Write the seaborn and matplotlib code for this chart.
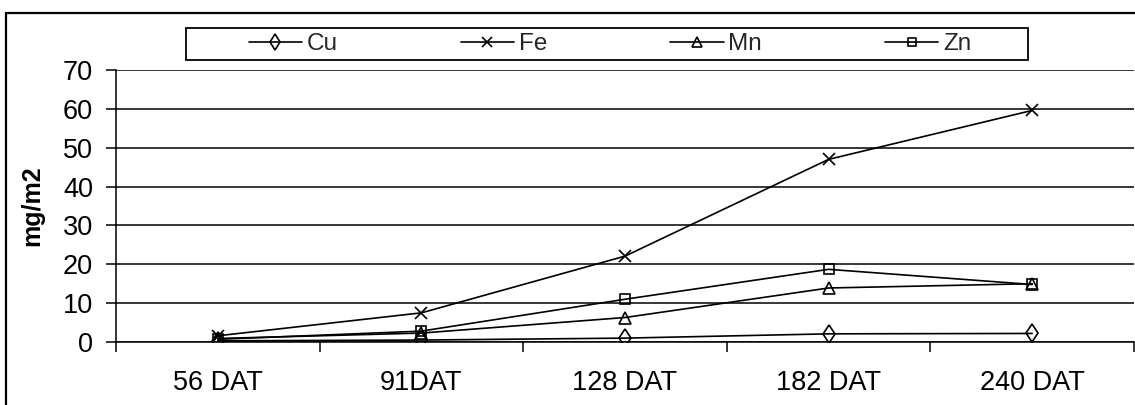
import matplotlib
matplotlib.use("Agg")
import matplotlib.pyplot as plt
from matplotlib.patches import Rectangle
from matplotlib.ticker import FixedLocator, MultipleLocator
import numpy as np
import pandas as pd
import seaborn as sns

# Sampling dates and micronutrient uptake (mg/m2)
stages = ["56 DAT", "91DAT", "128 DAT", "182 DAT", "240 DAT"]
cu = [0.3, 0.5, 1.0, 2.1, 2.2]
fe = [1.6, 7.5, 22.1, 47.0, 59.6]
mn = [0.9, 2.3, 6.3, 13.9, 15.0]
zn = [0.7, 2.8, 11.0, 18.7, 14.8]
elements = ["Cu", "Fe", "Mn", "Zn"]

wide = pd.DataFrame({"stage": stages, "Cu": cu, "Fe": fe, "Mn": mn, "Zn": zn})
long = wide.melt(id_vars="stage", var_name="element", value_name="uptake")

sns.set_theme(style="white")
plt.rcParams["font.family"] = ["Liberation Sans", "DejaVu Sans"]

W, H = 1135, 405
fig = plt.figure(figsize=(W / 100, H / 100), dpi=100)
ax = fig.add_axes([116 / W, 1 - 342 / H, (1134 - 116) / W, (342 - 70) / H])

sns.lineplot(
    data=long, x="stage", y="uptake", hue="element", hue_order=elements,
    palette=["black"] * 4, sort=False, legend=False, ax=ax, linewidth=1.2,
)

marker_style = {
    "Cu": dict(marker="d", markersize=9.5),
    "Fe": dict(marker="x", markersize=9),
    "Mn": dict(marker="^", markersize=8.5),
    "Zn": dict(marker="s", markersize=7.5),
}
lines = ax.get_lines()[:4]
for line, el in zip(lines, elements):
    st = marker_style[el]
    line.set_marker(st["marker"])
    line.set_markersize(st["markersize"])
    line.set_markerfacecolor("none")
    line.set_markeredgecolor("black")
    line.set_markeredgewidth(1.2)
    line.set_color("black")

ax.set_xlim(-0.5, len(stages) - 0.5)
ax.set_ylim(0, 70)
ax.yaxis.set_major_locator(MultipleLocator(10))
ax.grid(axis="y", color="black", linewidth=1.1)
ax.grid(axis="x", visible=False)
ax.set_axisbelow(True)

for side in ["top", "right"]:
    ax.spines[side].set_visible(False)
for side in ["left", "bottom"]:
    ax.spines[side].set_color("black")
    ax.spines[side].set_linewidth(1.1)

ax.set_xticks(range(len(stages)))
ax.set_xticklabels(stages)
ax.xaxis.set_minor_locator(FixedLocator(np.arange(-0.5, len(stages), 1.0)))
ax.tick_params(axis="x", which="major", length=0, pad=20, labelsize=19.5, colors="black")
ax.tick_params(axis="x", which="minor", length=7.5, width=1.1, color="black", direction="out", bottom=True)
ax.tick_params(axis="y", which="major", length=7.5, width=1.1, color="black", direction="out",
               left=True, pad=9, labelsize=19.5, labelcolor="black")

ax.set_xlabel("")
ax.set_ylabel("mg/m2", fontsize=18, fontweight="bold", color="black")
ax.yaxis.set_label_coords(44 / W, 1 - 206 / H, transform=fig.transFigure)

# Legend across the top, inside its own box
fig.legend(
    lines, elements, loc="center", bbox_to_anchor=(610 / W, 1 - 44 / H),
    ncol=4, frameon=False, handlelength=2.2, handletextpad=0.2,
    columnspacing=5.05, markerscale=0.85,
    prop={"family": ["Liberation Sans Narrow", "Liberation Sans"], "size": 17.5},
)
fig.add_artist(Rectangle((186 / W, 1 - 60 / H), (1028 - 186) / W, 32 / H,
                         transform=fig.transFigure, fill=False, edgecolor="black",
                         linewidth=1.3))

# Chart-area border
fig.add_artist(Rectangle((6 / W, -0.05), 1.1, (1 - 13 / H) + 0.05,
                         transform=fig.transFigure, fill=False, edgecolor="black",
                         linewidth=1.6, clip_on=False))

fig.savefig("out.png", dpi=100)
